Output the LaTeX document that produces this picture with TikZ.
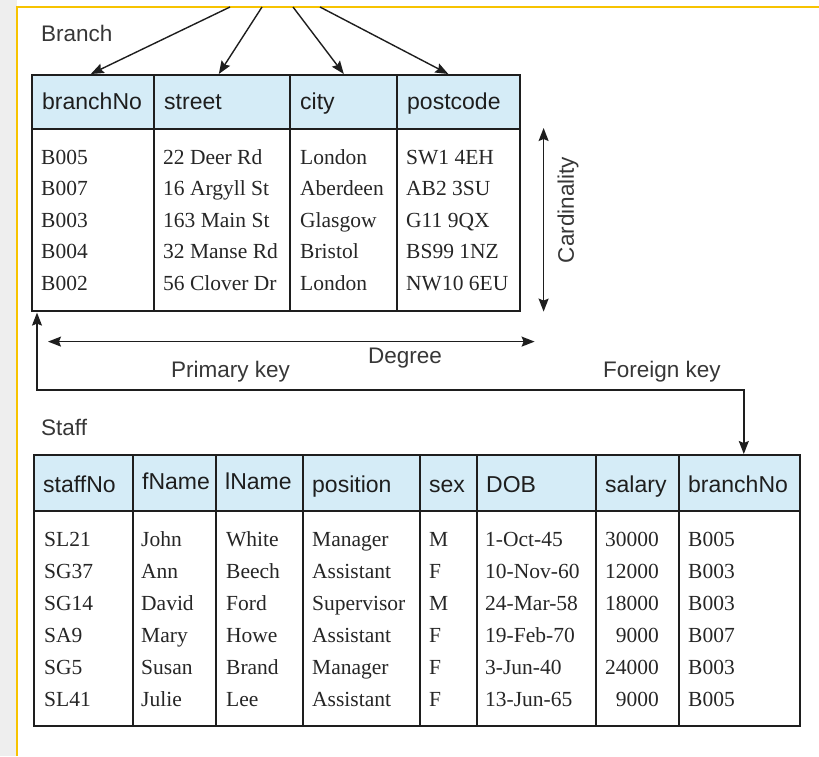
\documentclass[tikz,border=0pt]{standalone}
\usepackage{fontspec}
\setmainfont{Liberation Serif}
\setsansfont{Liberation Sans}
\usetikzlibrary{arrows.meta,calc}
\definecolor{hdrblue}{RGB}{213,236,247}
\definecolor{frameyel}{RGB}{247,195,0}
\definecolor{stripgray}{RGB}{238,238,238}
\definecolor{inkdark}{RGB}{30,30,30}
\definecolor{inktext}{RGB}{38,38,38}
\definecolor{inklabel}{RGB}{55,55,55}
\begin{document}
\begin{tikzpicture}[x=1pt,y=-1pt,
  >={Stealth[length=13pt,width=10pt,inset=2pt]},
  hcell/.style={draw=inkdark, line width=1.6pt, fill=hdrblue, inner sep=0pt, anchor=north west},
  bcell/.style={draw=inkdark, line width=1.6pt, fill=white, inner sep=0pt, anchor=north west},
  htxt/.style={font=\sffamily\fontsize{23}{26}\selectfont, text=inkdark, inner sep=0pt, anchor=base west},
  btxt/.style={font=\fontsize{21.5}{24}\selectfont, text=inktext, inner sep=0pt, anchor=base west},
  lbl/.style={font=\sffamily\fontsize{22.5}{25}\selectfont, text=inklabel, inner sep=0pt},
  conn/.style={draw=inkdark, line width=1.4pt},
]
% background and frame
\useasboundingbox (0,0) rectangle (819,756);
\fill[white] (0,0) rectangle (819,756);
\fill[stripgray] (0,0) rectangle (17,756);
\draw[frameyel, line width=2.5pt] (17,756) -- (17,7) -- (819,7);

% ---------- Branch table ----------
\node[lbl, anchor=base west] (branchlbl) at (41,41) {Branch};
\foreach \l/\r/\t [count=\i] in {31/153/branchNo,153/289/street,289/396/city,396/519/postcode}{
  \pgfmathsetmacro\w{\r-\l}
  \node[hcell, minimum width=\w pt, minimum height=54pt] (bh\i) at (\l,74) {};
  \node[bcell, minimum width=\w pt, minimum height=182pt] (bb\i) at (\l,128) {};
  \node[htxt] (bht\i) at (\l+11,109) {\t};
}
\foreach \a/\b/\c/\d [count=\i] in {B005/22 Deer Rd/London/SW1 4EH,B007/16 Argyll St/Aberdeen/AB2 3SU,B003/163 Main St/Glasgow/G11 9QX,B004/32 Manse Rd/Bristol/BS99 1NZ,B002/56 Clover Dr/London/NW10 6EU}{
  \pgfmathsetmacro\yy{164+(\i-1)*31.5}
  \node[btxt] (bra\i) at (41,\yy) {\a};
  \node[btxt] (brb\i) at (163,\yy) {\b};
  \node[btxt] (brc\i) at (300,\yy) {\c};
  \node[btxt] (brd\i) at (406,\yy) {\d};
}

% attribute arrows from above
\coordinate (s1) at (230,7);
\coordinate (s2) at (262,7);
\coordinate (s3) at (293,7);
\coordinate (s4) at (320,7);
\draw[conn,->] (s1) -- ($(bh1.north)+(-2,0)$);
\draw[conn,->] (s2) -- ($(bh2.north)+(-3,0)$);
\draw[conn,->] (s3) -- ($(bh3.north)+(0.5,0)$);
\draw[conn,->] (s4) -- ($(bh4.north)+(-10,0)$);

% cardinality
\coordinate (c1) at ($(bb4.north east)+(23,0)$);
\coordinate (c2) at ($(bb4.south east)+(23,0)$);
\draw[conn,<->] (c1) -- (c2);
\node[lbl, rotate=90] (cardlbl) at (568,210) {Cardinality};

% degree
\coordinate (d1) at ($(bb1.south west)+(17,30)$);
\coordinate (d2) at ($(bb4.south east)+(14,30)$);
\draw[conn,<->] (d1) -- (d2);
\node[lbl, anchor=base] (deglbl) at (405,363) {Degree};
\node[lbl, anchor=base west] (pklbl) at (171,377) {Primary key};
\node[lbl, anchor=base west] (fklbl) at (603,377) {Foreign key};

% ---------- Staff table ----------
\node[lbl, anchor=base west] (stafflbl) at (41,435) {Staff};
\foreach \l/\r/\t/\dy [count=\i] in {33/132/staffNo/0,132/215/fName/-3,215/302/lName/-3,302/419/position/0,419/476/sex/0,476/595/DOB/0,595/678/salary/0,678/799/branchNo/0}{
  \pgfmathsetmacro\w{\r-\l}
  \node[hcell, minimum width=\w pt, minimum height=56pt] (sh\i) at (\l,454) {};
  \node[bcell, minimum width=\w pt, minimum height=215pt] (sb\i) at (\l,510) {};
  \node[htxt] (sht\i) at (\l+10,492+\dy) {\t};
}
\foreach \a/\b/\c/\d/\e/\f/\g/\h [count=\i] in {SL21/John/White/Manager/M/1-Oct-45/30000/B005,SG37/Ann/Beech/Assistant/F/10-Nov-60/12000/B003,SG14/David/Ford/Supervisor/M/24-Mar-58/18000/B003,SA9/Mary/Howe/Assistant/F/19-Feb-70/9000/B007,SG5/Susan/Brand/Manager/F/3-Jun-40/24000/B003,SL41/Julie/Lee/Assistant/F/13-Jun-65/9000/B005}{
  \pgfmathsetmacro\yy{546+(\i-1)*32}
  \node[btxt] (sra\i) at (44,\yy) {\a};
  \node[btxt] (srb\i) at (141,\yy) {\b};
  \node[btxt] (src\i) at (226,\yy) {\c};
  \node[btxt] (srd\i) at (312,\yy) {\d};
  \node[btxt] (sre\i) at (429,\yy) {\e};
  \node[btxt] (srf\i) at (485,\yy) {\f};
  \node[btxt, anchor=base east] (srg\i) at (659,\yy) {\g};
  \node[btxt] (srh\i) at (688,\yy) {\h};
}

% primary key / foreign key link
\coordinate (pk) at ($(bb1.south west)+(6,1)$);
\coordinate (fk) at ($(sh8.north)+(4.5,0)$);
\draw[conn,<->] (pk) |- ($(fk)+(0,-64)$) -- (fk);
\end{tikzpicture}
\end{document}
